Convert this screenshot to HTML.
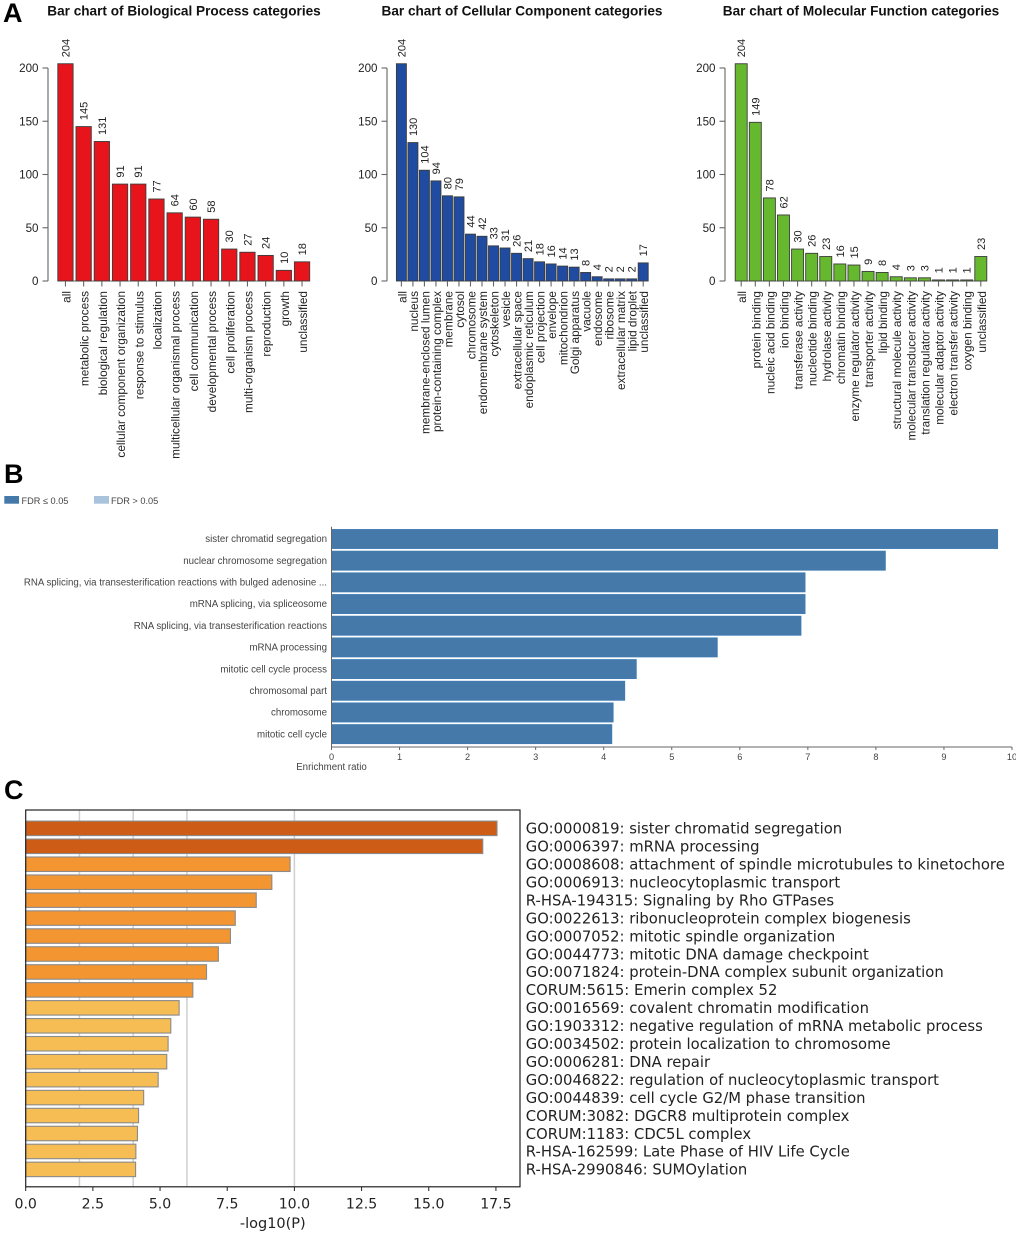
<!DOCTYPE html>
<html lang="en">
<head>
<meta charset="utf-8">
<title>Enrichment charts</title>
<style>
html,body{margin:0;padding:0;background:#fff;}
svg{display:block;filter:blur(0.35px);}
text{fill:#222;}
.lib{font-family:"Liberation Sans",sans-serif;}
.dj{font-family:"DejaVu Sans",sans-serif;}
</style>
</head>
<body>
<svg id="root" xmlns="http://www.w3.org/2000/svg" width="1020" height="1236" viewBox="0 0 1020 1236">
<defs><clipPath id="page-clip"><rect x="0" y="0" width="1016" height="1236"/></clipPath></defs>
<text class="lib" x="3" y="22" font-size="27" font-weight="bold" style="fill:#000">A</text>
<text class="lib" x="4" y="483" font-size="27" font-weight="bold" style="fill:#000">B</text>
<text class="lib" x="4" y="799" font-size="27" font-weight="bold" style="fill:#000">C</text>
</svg>
<script>
// Panel A: Biological Process
const bpCategories = ["all","metabolic process","biological regulation","cellular component organization","response to stimulus","localization","multicellular organismal process","cell communication","developmental process","cell proliferation","multi-organism process","reproduction","growth","unclassified"];
const bpValues = [204,145,131,91,91,77,64,60,58,30,27,24,10,18];
// Panel A: Cellular Component
const ccCategories = ["all","nucleus","membrane-enclosed lumen","protein-containing complex","membrane","cytosol","chromosome","endomembrane system","cytoskeleton","vesicle","extracellular space","endoplasmic reticulum","cell projection","envelope","mitochondrion","Golgi apparatus","vacuole","endosome","ribosome","extracellular matrix","lipid droplet","unclassified"];
const ccValues = [204,130,104,94,80,79,44,42,33,31,26,21,18,16,14,13,8,4,2,2,2,17];
// Panel A: Molecular Function
const mfCategories = ["all","protein binding","nucleic acid binding","ion binding","transferase activity","nucleotide binding","hydrolase activity","chromatin binding","enzyme regulator activity","transporter activity","lipid binding","structural molecule activity","molecular transducer activity","translation regulator activity","molecular adaptor activity","electron transfer activity","oxygen binding","unclassified"];
const mfValues = [204,149,78,62,30,26,23,16,15,9,8,4,3,3,1,1,1,23];
const countTicks = [0,50,100,150,200];
// Panel B
const enrichCategories = ["sister chromatid segregation","nuclear chromosome segregation","RNA splicing, via transesterification reactions with bulged adenosine ...","mRNA splicing, via spliceosome","RNA splicing, via transesterification reactions","mRNA processing","mitotic cell cycle process","chromosomal part","chromosome","mitotic cell cycle"];
const enrichValues = [9.79,8.14,6.96,6.96,6.9,5.67,4.48,4.31,4.14,4.12];
const enrichTicks = [0,1,2,3,4,5,6,7,8,9,10];
// Panel C
const termLabels = ["GO:0000819: sister chromatid segregation","GO:0006397: mRNA processing","GO:0008608: attachment of spindle microtubules to kinetochore","GO:0006913: nucleocytoplasmic transport","R-HSA-194315: Signaling by Rho GTPases","GO:0022613: ribonucleoprotein complex biogenesis","GO:0007052: mitotic spindle organization","GO:0044773: mitotic DNA damage checkpoint","GO:0071824: protein-DNA complex subunit organization","CORUM:5615: Emerin complex 52","GO:0016569: covalent chromatin modification","GO:1903312: negative regulation of mRNA metabolic process","GO:0034502: protein localization to chromosome","GO:0006281: DNA repair","GO:0046822: regulation of nucleocytoplasmic transport","GO:0044839: cell cycle G2/M phase transition","CORUM:3082: DGCR8 multiprotein complex","CORUM:1183: CDC5L complex","R-HSA-162599: Late Phase of HIV Life Cycle","R-HSA-2990846: SUMOylation"];
const termValues = [17.54,17.01,9.84,9.16,8.58,7.8,7.62,7.17,6.73,6.22,5.71,5.4,5.3,5.25,4.93,4.39,4.2,4.16,4.1,4.09];
const pTicks = [0,2.5,5,7.5,10,12.5,15,17.5];
const pGrid = [2,4,6,10];

const root = document.getElementById('root');
function mk(tag, attrs, txt, parent){
  const e = document.createElementNS('http://www.w3.org/2000/svg', tag);
  for (const k in attrs) e.setAttribute(k, attrs[k]);
  if (txt !== undefined && txt !== null) e.textContent = txt;
  (parent || root).appendChild(e);
  return e;
}
function slug(s){ return String(s).toLowerCase().replace(/[^a-z0-9]+/g,'-').replace(/^-|-$/g,''); }

function drawCountChart(cfg){
  const y = v => 281 - v * 1.065;
  const n = cfg.values.length;
  const pitch = (cfg.lastLeft - cfg.firstLeft) / (n - 1);
  const cx = i => cfg.firstLeft + pitch * i + cfg.barW / 2;
  const g = mk('g', {class:'lib'});
  
  

  const title = mk('text', {x:cfg.titleX, y:15.5, 'text-anchor':'middle', 'font-size':13.6, 'font-weight':'bold', style:'fill:#111'}, cfg.title, g);
  
  

  const axis = mk('line', {x1:cfg.axisX, x2:cfg.axisX, y1:y(200), y2:y(0), stroke:'#666', 'stroke-width':1.1}, null, g);
  
  

  countTicks.forEach(t => {
    const tk = mk('line', {x1:cfg.axisX-5.5, x2:cfg.axisX, y1:y(t), y2:y(t), stroke:'#666', 'stroke-width':1.1}, null, g);
    
    
    const lb = mk('text', {x:cfg.axisX-9.5, y:y(t)+4.2, 'text-anchor':'end', 'font-size':11.6}, t, g);
    
    
  });

  const base = mk('line', {x1:cx(0), x2:cx(n-1), y1:y(0), y2:y(0), stroke:'#666', 'stroke-width':1.1}, null, g);
  
  

  cfg.values.forEach((v,i) => {
    const x = cfg.firstLeft + pitch * i;
    const bar = mk('rect', {x:x, y:y(v), width:cfg.barW, height:y(0)-y(v), fill:cfg.color, stroke:'#3c3c3c', 'stroke-width':0.9}, null, g);
    
    

    const tk = mk('line', {x1:cx(i), x2:cx(i), y1:y(0), y2:y(0)+5.5, stroke:'#666', 'stroke-width':1.1}, null, g);
    
    

    const vx = cx(i) + 4, vy = y(v) - 6.5;
    const val = mk('text', {x:vx, y:vy, transform:'rotate(-90 '+vx+' '+vy+')', 'font-size':11}, v, g);
    
    

    const lx = cx(i) + 5, ly = 291;
    const lab = mk('text', {x:lx, y:ly, transform:'rotate(-90 '+lx+' '+ly+')', 'text-anchor':'end', 'font-size':11.8}, cfg.cats[i], g);
    
    
  });
}
drawCountChart({key:'biological-process', title:'Bar chart of Biological Process categories', titleX:184, axisX:48, firstLeft:57.8, lastLeft:294.4, barW:15.3, color:'#e8141c', cats:bpCategories, values:bpValues});
drawCountChart({key:'cellular-component', title:'Bar chart of Cellular Component categories', titleX:522, axisX:387, firstLeft:396.4, lastLeft:638.2, barW:10, color:'#1f4ba0', cats:ccCategories, values:ccValues});
drawCountChart({key:'molecular-function', title:'Bar chart of Molecular Function categories', titleX:861, axisX:725, firstLeft:735.2, lastLeft:974.8, barW:12, color:'#66b82e', cats:mfCategories, values:mfValues});

// Panel B
(function(){
  const x = v => 331.5 + v * 68.05;
  const g = mk('g', {class:'lib', 'clip-path':'url(#page-clip)'});
  
  

  const sw1 = mk('rect', {x:4.3, y:496, width:14.7, height:7.7, fill:'#4579a9'}, null, g);
  
  
  const lt1 = mk('text', {x:21.5, y:504, 'font-size':9.2, style:'fill:#444'}, 'FDR ≤ 0.05', g);
  
  
  const sw2 = mk('rect', {x:94, y:496, width:15, height:7.7, fill:'#a9c3dc'}, null, g);
  
  
  const lt2 = mk('text', {x:111, y:504, 'font-size':9.2, style:'fill:#444'}, 'FDR > 0.05', g);
  
  

  enrichValues.forEach((v,i) => {
    const top = 529.4 + i * 21.68;
    const bar = mk('rect', {x:x(0), y:top, width:x(v)-x(0), height:19.2, fill:'#4579a9', stroke:'#3f7cb5', 'stroke-width':0.7}, null, g);
    
    
    const lb = mk('text', {x:327, y:top+12.8, 'text-anchor':'end', 'font-size':9.7, style:'fill:#444'}, enrichCategories[i], g);
    
    
  });

  const ya = mk('line', {x1:x(0), x2:x(0), y1:526.7, y2:747, stroke:'#666', 'stroke-width':1}, null, g);
  
  
  const xa = mk('line', {x1:x(0), x2:x(10), y1:747, y2:747, stroke:'#666', 'stroke-width':1}, null, g);
  
  
  enrichTicks.forEach(t => {
    const tk = mk('line', {x1:x(t), x2:x(t), y1:747, y2:750, stroke:'#666', 'stroke-width':1}, null, g);
    
    
    const lb = mk('text', {x:x(t), y:760, 'text-anchor':'middle', 'font-size':9.2, style:'fill:#444'}, t, g);
    
    
  });
  const xt = mk('text', {x:331.5, y:770, 'text-anchor':'middle', 'font-size':9.7, style:'fill:#444'}, 'Enrichment ratio', g);
  
  
})();

// Panel C
(function(){
  const x = v => 25.7 + v * 26.87;
  const barColor = i => i < 2 ? '#cd5c17' : (i < 10 ? '#f39530' : '#f5bd53');
  const g = mk('g', {class:'dj'});
  
  

  pGrid.forEach(t => {
    const gl = mk('line', {x1:x(t), x2:x(t), y1:810, y2:1186.8, stroke:'#cfcfcf', 'stroke-width':1.5}, null, g);
    
    
  });

  termValues.forEach((v,i) => {
    const top = 821.1 + i * 17.95;
    const bar = mk('rect', {x:x(0), y:top, width:x(v)-x(0), height:14.5, fill:barColor(i), stroke:'#8a8a8a', 'stroke-width':1.1}, null, g);
    
    
    const lb = mk('text', {x:525.8, y:833.6 + i * 17.95, 'font-size':14.8}, termLabels[i], g);
    
    
  });

  const frame = mk('rect', {x:25.7, y:810, width:494.3, height:376.8, fill:'none', stroke:'#222', 'stroke-width':1.2}, null, g);
  
  

  pTicks.forEach(t => {
    const tk = mk('line', {x1:x(t), x2:x(t), y1:1186.8, y2:1191, stroke:'#222', 'stroke-width':1}, null, g);
    
    
    const lb = mk('text', {x:x(t), y:1208.3, 'text-anchor':'middle', 'font-size':14.1}, t.toFixed(1), g);
    
    
  });
  const xt = mk('text', {x:272.8, y:1228, 'text-anchor':'middle', 'font-size':14.5}, '-log10(P)', g);
  
  
})();
</script>
</body>
</html>
